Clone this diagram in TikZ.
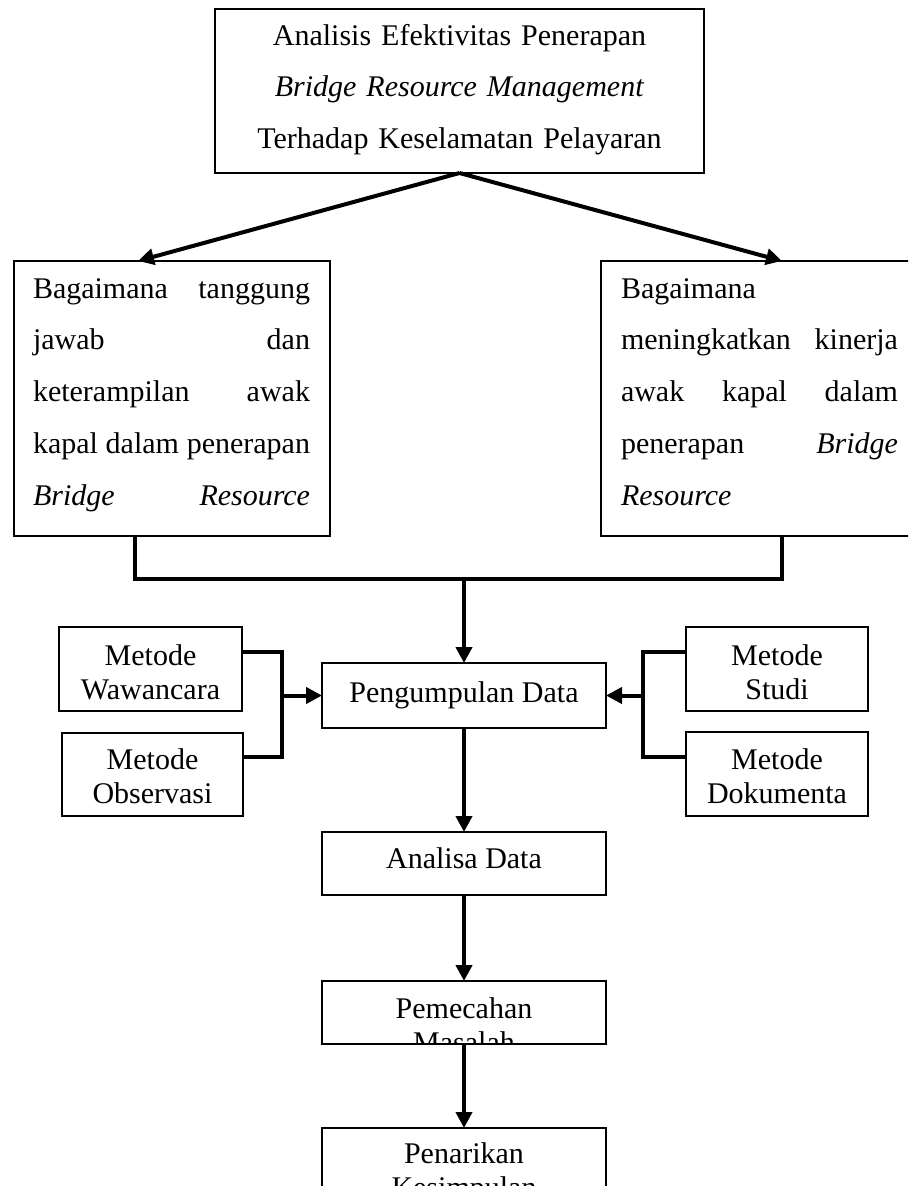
\documentclass[tikz,border=0pt]{standalone}
\usepackage{fontspec}
\setmainfont{Liberation Serif}
\usetikzlibrary{arrows.meta}
\begin{document}
\begin{tikzpicture}[x=1pt,y=-1pt,
  box/.style={draw, line width=1.2pt, anchor=north west, inner sep=0pt, outer sep=0pt},
  conn/.style={line width=4pt},
  arr/.style={line width=4pt, -{Triangle[length=16pt,width=16pt]}},
  txt/.style={inner sep=0pt, outer sep=0pt, anchor=base, font=\fontsize{30}{34.5}\selectfont},
  wide/.style={font=\fontsize{30}{51.75}\selectfont},
]
\useasboundingbox (0,0) rectangle (908,1186);
\clip (0,0) rectangle (908,1186);
\fill[white] (0,0) rectangle (908,1186);

% boxes
\node[box, minimum width=489, minimum height=164] (top) at (215,9) {};
\node[box, minimum width=316, minimum height=275] (lq) at (14,261) {};
\node[box, minimum width=320, minimum height=275] (rq) at (601,261) {};
\node[box, minimum width=183, minimum height=84] (wawa) at (59,627) {};
\node[box, minimum width=181, minimum height=83] (obs) at (62,733) {};
\node[box, minimum width=182, minimum height=84] (studi) at (686,627) {};
\node[box, minimum width=182, minimum height=84] (doku) at (686,732) {};
\node[box, minimum width=284, minimum height=65] (peng) at (322,663) {};
\node[box, minimum width=284, minimum height=63] (anal) at (322,832) {};
\node[box, minimum width=284, minimum height=63] (pem) at (322,981) {};
\node[box, minimum width=284, minimum height=100] (pen) at (322,1128) {};

% texts
\node[txt, wide, text width=480, align=center] (topT) at (459.5,45)
  {Analisis Efektivitas Penerapan\\\textit{Bridge Resource Management}\\Terhadap Keselamatan Pelayaran};
\node[txt, wide, text width=277, align=left, anchor=base west] (lqT) at (33,298)
  {Bagaimana\hfill tanggung\\jawab\hfill dan\\keterampilan\hfill awak\\kapal\hfill dalam\hfill penerapan\\\textit{Bridge}\hfill\textit{Resource}};
\node[txt, wide, text width=277, align=left, anchor=base west] (rqT) at (621,298)
  {Bagaimana\\meningkatkan\hfill kinerja\\awak\hfill kapal\hfill dalam\\penerapan\hfill\textit{Bridge}\\\textit{Resource}};
\node[txt, text width=180, align=center] (wawaT) at (150.5,665) {Metode\\Wawancara};
\node[txt, text width=180, align=center] (obsT) at (152.5,769) {Metode\\Observasi};
\node[txt, text width=180, align=center] (studiT) at (777,665) {Metode\\Studi};
\node[txt, text width=180, align=center] (dokuT) at (777,769) {Metode\\Dokumenta};
\node[txt] (pengT) at (464,702) {Pengumpulan Data};
\node[txt] (analT) at (464,868) {Analisa Data};
\begin{scope}
  \clip (pem.north west) rectangle (pem.south east);
  \node[txt, text width=280, align=center] (pemT) at (464,1018) {Pemecahan\\Masalah};
\end{scope}
\node[txt, text width=280, align=center] (penT) at (464,1163) {Penarikan\\Kesimpulan};

% connectors
\coordinate (la) at (138,261);
\coordinate (ra) at (782,261);
\draw[arr] (top.south) -- (la);
\draw[arr] (top.south) -- (ra);

\coordinate (j1) at (135,579);
\coordinate (j2) at (782,579);
\draw[conn] (lq.south -| j1) -- (j1) -- (j2) -- (rq.south -| j2);
\draw[arr] (peng.north |- j1) -- (peng.north);

\coordinate (bl1) at (282,652);
\coordinate (bl2) at (282,757);
\draw[conn] (wawa.east |- bl1) -- (bl1) -- (bl2) -- (obs.east |- bl2);
\draw[arr] (peng.west -| bl1) -- (peng.west);

\coordinate (br1) at (643,652);
\coordinate (br2) at (643,757);
\draw[conn] (studi.west |- br1) -- (br1) -- (br2) -- (doku.west |- br2);
\draw[arr] (peng.east -| br1) -- (peng.east);

\draw[arr] (peng.south) -- (anal.north);
\draw[arr] (anal.south) -- (pem.north);
\draw[arr] (pem.south) -- (pen.north);
\end{tikzpicture}
\end{document}
